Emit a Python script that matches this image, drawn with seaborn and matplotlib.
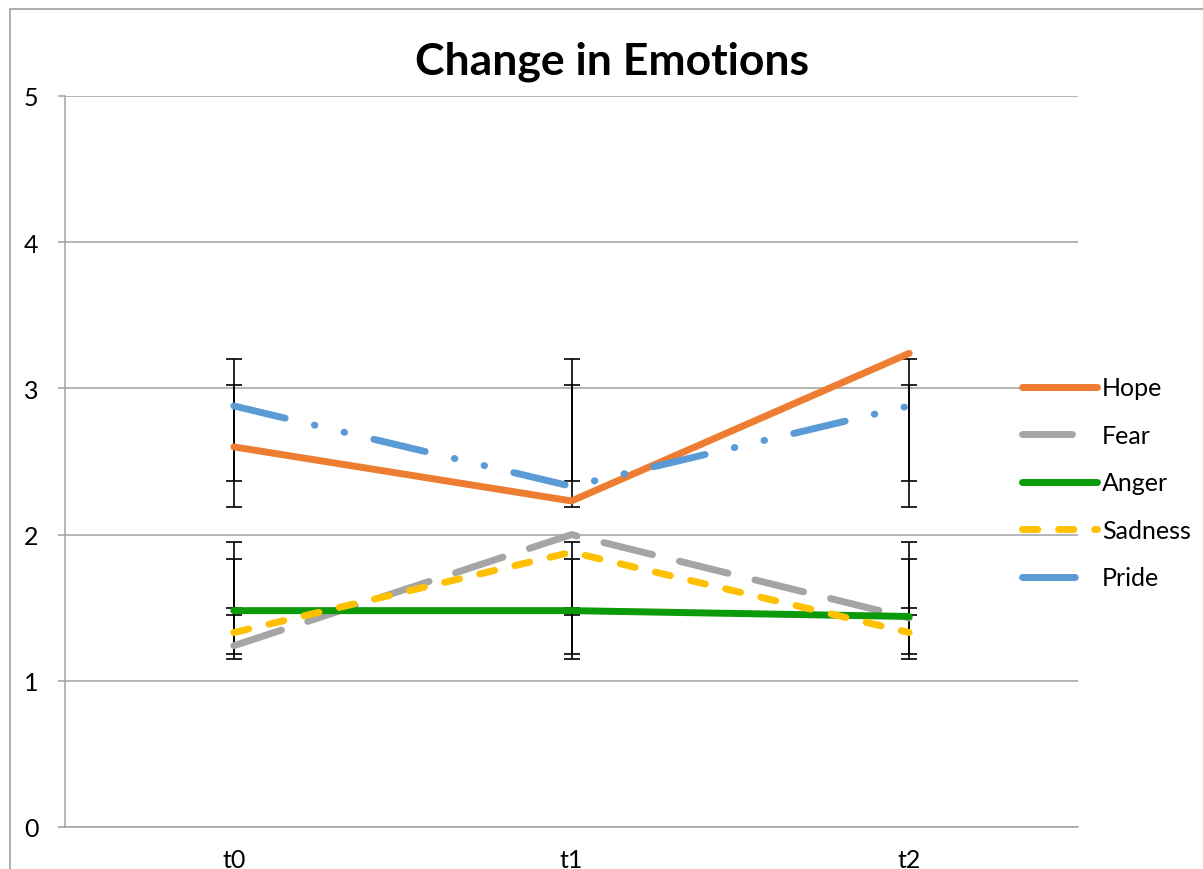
import matplotlib.pyplot as plt
import matplotlib.patches as mpatches
import pandas as pd
import seaborn as sns
from matplotlib.ticker import FixedLocator

times = ["t0", "t1", "t2"]
emotions = ["Hope", "Fear", "Anger", "Sadness", "Pride"]
hope = [2.60, 2.23, 3.24]
fear = [1.24, 2.00, 1.43]
anger = [1.48, 1.48, 1.44]
sadness = [1.33, 1.88, 1.33]
pride = [2.88, 2.33, 2.88]

# error bars look identical at every time point
err_low = [2.19, 2.37, 1.15, 1.18, 1.45]
err_high = [3.20, 3.02, 1.95, 1.83, 1.50]

palette = {"Hope": "#ED7D31", "Fear": "#A5A5A5", "Anger": "#0A9A0A",
           "Sadness": "#FFC000", "Pride": "#5B9BD5"}
# dash patterns in points (scale_dashes is off)
dash_map = {"Hope": "", "Fear": (36, 20), "Anger": "",
            "Sadness": (11, 15), "Pride": (38, 21.6, 0.4, 21.6, 0.4, 21.6)}

sns.set_style("white")
plt.rcParams['font.family'] = ['Lato', 'DejaVu Sans']
plt.rcParams['lines.scale_dashes'] = False
plt.rcParams['text.color'] = 'black'
plt.rcParams['xtick.labelcolor'] = 'black'
plt.rcParams['ytick.labelcolor'] = 'black'

W, H = 1203, 870
fig = plt.figure(figsize=(W / 100, H / 100), dpi=100)
ax = fig.add_axes([65 / W, 1 - 828 / H, (1078 - 65) / W, (828 - 97) / H])

series = [hope, fear, anger, sadness, pride]
rows = []
for name, vals in zip(emotions, series):
  for t, v in zip(times, vals):
    rows.append({'time': t, 'value': v, 'emotion': name})
df = pd.DataFrame(rows)

sns.lineplot(data=df, x='time', y='value', hue='emotion', style='emotion',
             hue_order=emotions, style_order=emotions, palette=palette,
             dashes=dash_map, markers=False, linewidth=5, ax=ax, zorder=3,
             solid_capstyle='round', dash_capstyle='round')

# error bars behind the lines
for lo, hi in zip(err_low, err_high):
  mid = (lo + hi) / 2
  half = (hi - lo) / 2
  ax.errorbar(times, [mid] * len(times), yerr=half, fmt='none',
              ecolor='black', elinewidth=1.2, capsize=5.5, capthick=1.2,
              zorder=2)

ax.set_xlim(-0.5, 2.5)
ax.set_ylim(0, 5)
ax.set_yticks([0, 1, 2, 3, 4, 5])
ax.yaxis.grid(True, color='#A0A0A0', linewidth=1.1)
ax.set_axisbelow(True)
for s in ['top', 'right']:
  ax.spines[s].set_visible(False)
for s in ['left', 'bottom']:
  ax.spines[s].set_color('#A0A0A0')
  ax.spines[s].set_linewidth(1.1)
ax.xaxis.set_minor_locator(FixedLocator([-0.5, 0.5, 1.5, 2.5]))
ax.tick_params(axis='x', which='major', length=0, pad=15, labelsize=18)
ax.tick_params(axis='x', which='minor', length=6, width=1.1,
               color='#A0A0A0', direction='out')
ax.tick_params(axis='y', length=5, width=1.1, color='#A0A0A0',
               direction='out', pad=14, labelsize=18, left=True)
ax.set_xlabel('')
ax.set_ylabel('')

sns.move_legend(ax, loc='center left',
                bbox_to_anchor=(1022 / W, 1 - 484 / H),
                bbox_transform=fig.transFigure, title=None, frameon=False,
                fontsize=18, handlelength=3.0, handletextpad=0.2,
                labelspacing=0.98, borderpad=0, borderaxespad=0)

fig.text(612 / W, 1 - 62 / H, 'Change in Emotions', ha='center',
         va='center', fontsize=32, fontweight='bold')

# outer chart border (cropped at right and bottom)
fig.patches.append(mpatches.Rectangle((10 / W, -0.1), 1.2, (H - 10) / H + 0.1,
                                      transform=fig.transFigure, fill=False,
                                      edgecolor='#A6A6A6', linewidth=1.3))

plt.savefig('out.png', dpi=100)
